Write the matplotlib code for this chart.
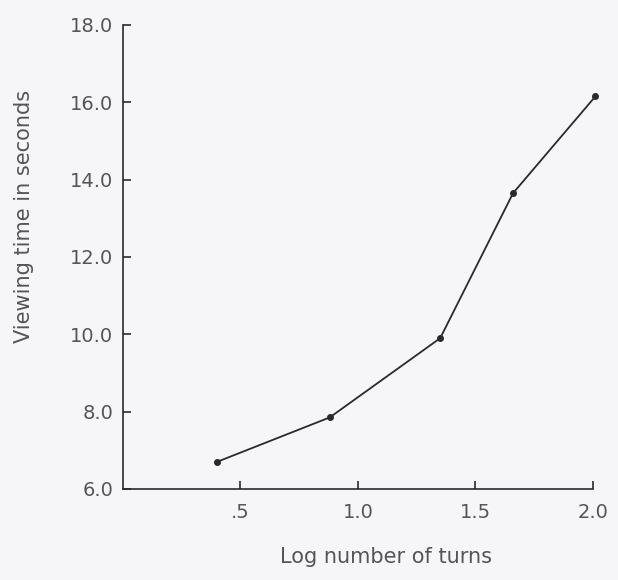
import matplotlib
matplotlib.use("Agg")
import matplotlib.pyplot as plt

# values
log_turns = [0.40, 0.88, 1.35, 1.66, 2.01]
viewing_time = [6.7, 7.85, 9.9, 13.65, 16.15]
x_ticks = [0.5, 1.0, 1.5, 2.0]
x_labels = [".5", "1.0", "1.5", "2.0"]
y_ticks = [6, 8, 10, 12, 14, 16, 18]
y_labels = ["6.0", "8.0", "10.0", "12.0", "14.0", "16.0", "18.0"]

ink = "#2a2a2a"
text_col = "#555555"
bg = "#f6f6f8"

plt.rcParams["font.family"] = ["DejaVu Sans"]

fig = plt.figure(figsize=(6.18, 5.8), dpi=100, facecolor=bg)
ax = fig.add_axes([0.199, 0.157, 0.7605, 0.8])
ax.set_facecolor(bg)

ax.plot(log_turns, viewing_time, color=ink, lw=1.3, marker="o",
        markersize=4, clip_on=False)

ax.set_xlim(0, 2.0)
ax.set_ylim(6, 18)
ax.set_xticks(x_ticks)
ax.set_xticklabels(x_labels)
ax.set_yticks(y_ticks)
ax.set_yticklabels(y_labels)

for side in ["top", "right"]:
    ax.spines[side].set_visible(False)
for side in ["left", "bottom"]:
    ax.spines[side].set_color(ink)
    ax.spines[side].set_linewidth(1.2)

ax.tick_params(axis="both", direction="in", length=6, width=1.2,
               color=ink, labelcolor=text_col, labelsize=14)
ax.tick_params(axis="y", pad=7)
ax.tick_params(axis="x", pad=10)

ax.set_xlabel("Log number of turns", fontsize=15, color=text_col)
ax.set_ylabel("Viewing time in seconds", fontsize=15, color=text_col)
ax.xaxis.set_label_coords(0.56, -0.125)
ax.yaxis.set_label_coords(-0.19, 0.588)

plt.savefig("out.png", dpi=100, facecolor=bg)
